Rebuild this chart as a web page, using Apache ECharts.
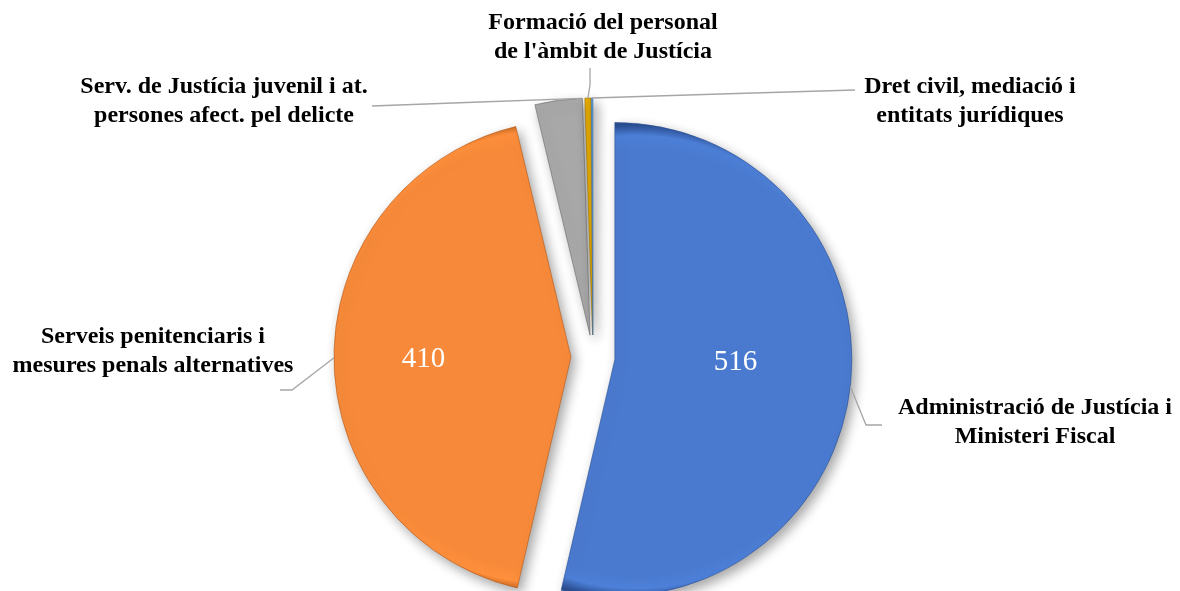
<!DOCTYPE html>
<html>
<head>
<meta charset="utf-8">
<script src="https://cdn.jsdelivr.net/npm/echarts@6/dist/echarts.min.js"></script>
<style>
  html, body { margin: 0; padding: 0; background: #fff; }
  #pie1 { width: 1180px; height: 591px; }
</style>
</head>
<body>
<div id="pie1"></div>
<script>
  // noms de les partides (amb salts de línia com a l'original)
  var categories = [
    'Administració de Justícia i\nMinisteri Fiscal',
    'Serveis penitenciaris i\nmesures penals alternatives',
    'Serv. de Justícia juvenil i at.\npersones afect. pel delicte',
    'Formació del personal\nde l\'àmbit de Justícia',
    'Dret civil, mediació i\nentitats jurídiques'
  ];
  // valors (llegits del gràfic)
  var values = [516, 410, 31, 4, 1];
  // etiquetes numèriques visibles dins del pastís
  var valueLabels = ['516', '410', '', '', ''];

  var colors = ['#4a7acf', '#f78a3a', '#a8a8a8', '#e3a900', '#5b9bd5'];
  var rims = ['#2a4f92', '#b35816', '#6a6a6a', '#9a7000', '#3a6fa8'];

  // posició de les etiquetes i punts de les línies guia (colze, final)
  var labelPos = [
    {x: 1035, y: 422, line: [[866, 425], [882, 425]]},
    {x: 153, y: 351, line: [[292, 390], [280, 390]]},
    {x: 224, y: 101, line: [[480, 102], [372, 106]]},
    {x: 603, y: 37, line: [[590, 85], [590, 68]]},
    {x: 970, y: 101, line: [[720, 94], [855, 90]]}
  ];
  // on surt la línia guia: 0.5 = meitat de la porció, 1 = vora final
  var lineAt = [0.5, 0.5, 0.97, 0.5, 0.5];
  var valueShift = [[0, -11], [-26, 2], [0, 0], [0, 0], [0, 0]];

  var CX = 593, CY = 357, R = 237, OFF = 22;

  var myChart = echarts.init(document.getElementById('pie1'));

  var option = {
    backgroundColor: '#fff',
    animation: false,
    series: [
      {
        type: 'pie',
        center: [CX, CY],
        radius: R,
        startAngle: 90,
        clockwise: true,
        selectedMode: 'multiple',
        selectedOffset: OFF,
        silent: true,
        itemStyle: {
          borderWidth: 0.6,
          shadowBlur: 12,
          shadowOffsetX: 4,
          shadowOffsetY: 5,
          shadowColor: 'rgba(0,0,0,0.35)'
        },
        label: {
          show: true,
          position: 'inside',
          color: '#fff',
          fontFamily: 'Liberation Serif',
          fontSize: 29,
          formatter: function (params) {
            return valueLabels[params.dataIndex];
          }
        },
        labelLine: {show: false},
        labelLayout: function (params) {
          var s = valueShift[params.dataIndex];
          return {dx: s[0], dy: s[1]};
        },
        emphasis: {disabled: true},
        data: values.map(function (v, i) {
          return {
            value: v,
            name: categories[i],
            selected: true,
            itemStyle: {color: colors[i], borderColor: rims[i]},
            select: {itemStyle: {color: colors[i], borderColor: rims[i], borderWidth: 0.6}}
          };
        })
      }
    ]
  };
  myChart.setOption(option);

  // geometria real de cada porció (calculada per ECharts) per a ombrejat i línies guia
  var pieData = myChart.getModel().getSeriesByIndex(0).getData();
  var graphics = [];
  var newData = [];
  values.forEach(function (v, i) {
    var lay = pieData.getItemLayout(i);
    var mid = (lay.startAngle + lay.endAngle) / 2;
    var vx = lay.cx + Math.cos(mid) * OFF;
    var vy = lay.cy + Math.sin(mid) * OFF;
    var fill = new echarts.graphic.RadialGradient(vx, vy, lay.r, [
      {offset: 0, color: colors[i]},
      {offset: 0.9, color: colors[i]},
      {offset: 0.955, color: echarts.color.lift(colors[i], -0.05)},
      {offset: 1, color: rims[i]}
    ], true);
    newData.push({
      value: v,
      name: categories[i],
      selected: true,
      itemStyle: {color: fill, borderColor: rims[i]},
      select: {itemStyle: {color: fill, borderColor: rims[i], borderWidth: 0.6}}
    });
    var p = labelPos[i];
    var a = lay.startAngle + (lay.endAngle - lay.startAngle) * lineAt[i];
    var sx = vx + Math.cos(a) * lay.r;
    var sy = vy + Math.sin(a) * lay.r;
    graphics.push({
      type: 'polyline',
      silent: true,
      z: 10,
      shape: {points: [[sx, sy], p.line[0], p.line[1]]},
      style: {stroke: '#a6a6a6', lineWidth: 1.3, fill: null}
    });
    graphics.push({
      type: 'text',
      silent: true,
      z: 10,
      x: p.x,
      y: p.y,
      style: {
        text: categories[i],
        fill: '#000',
        font: 'bold 24px "Liberation Serif"',
        lineHeight: 29,
        align: 'center',
        verticalAlign: 'middle'
      }
    });
  });

  myChart.setOption({
    series: [{data: newData}],
    graphic: graphics
  });
</script>
</body>
</html>
